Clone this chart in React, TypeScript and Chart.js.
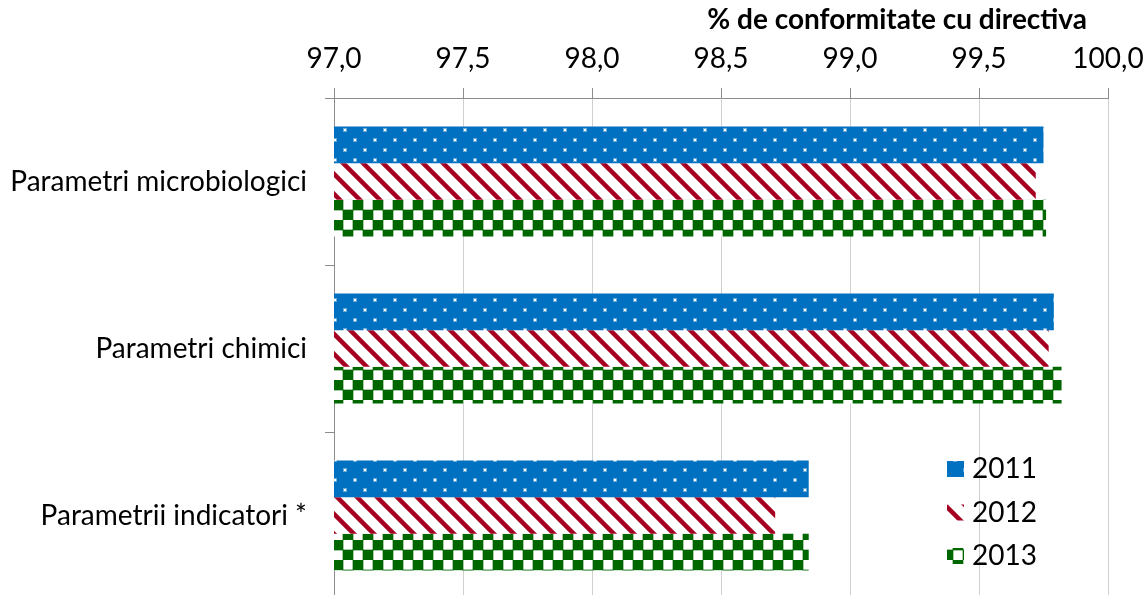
import { useEffect, useRef } from "react";
import { Chart, registerables } from "chart.js";

Chart.register(...registerables);

// Chart content
const categories = ["Parametri microbiologici", "Parametri chimici", "Parametrii indicatori *"];
const seriesLabels = ["2011", "2012", "2013"];
const values2011 = [99.75, 99.79, 98.84];
const values2012 = [99.72, 99.77, 98.71];
const values2013 = [99.76, 99.82, 98.84];
const tickValues = [97.0, 97.5, 98.0, 98.5, 99.0, 99.5, 100.0];
const axisTitle = "% de conformitate cu directiva";

const FONT = "Lato";
const FONT_SIZE = 28;
const BLUE = "#0070C0";
const RED = "#A50021";
const GREEN = "#006600";

function makeTile(draw: (c: CanvasRenderingContext2D) => void): HTMLCanvasElement {
  const cv = document.createElement("canvas");
  cv.width = 20;
  cv.height = 20;
  const c = cv.getContext("2d")!;
  draw(c);
  return cv;
}

// blue with staggered white dots
function dotTile() {
  return makeTile((c) => {
    c.fillStyle = BLUE;
    c.fillRect(0, 0, 20, 20);
    const dots = [
      [4, 9],
      [14, 19],
      [14, -1],
    ];
    for (const [x, y] of dots) {
      c.fillStyle = "rgba(255,255,255,0.4)";
      c.fillRect(x - 1, y - 1, 4, 4);
      c.fillStyle = "#ffffff";
      c.fillRect(x, y, 2, 2);
    }
  });
}

// white with dark red downward diagonals
function stripeTile() {
  return makeTile((c) => {
    c.fillStyle = "#ffffff";
    c.fillRect(0, 0, 20, 20);
    c.strokeStyle = RED;
    c.lineWidth = 4.5;
    for (const k of [-20, 0, 20]) {
      c.beginPath();
      c.moveTo(k - 6, -6);
      c.lineTo(k + 26, 26);
      c.stroke();
    }
  });
}

// green / white checkerboard
function checkerTile() {
  return makeTile((c) => {
    c.fillStyle = "#ffffff";
    c.fillRect(0, 0, 20, 20);
    const squares = [
      [13, 0],
      [-7, 0],
      [3, 10],
    ];
    for (const [x, y] of squares) {
      c.fillStyle = "rgba(0,102,0,0.35)";
      c.fillRect(x - 1, y - 1, 12, 12);
    }
    for (const [x, y] of squares) {
      c.fillStyle = GREEN;
      c.fillRect(x, y, 10, 10);
    }
  });
}

const fmt = (v: number) => v.toFixed(1).replace(".", ",");

export default function App() {
  const ref = useRef<HTMLCanvasElement | null>(null);

  useEffect(() => {
    const canvas = ref.current!;
    const ctx = canvas.getContext("2d")!;
    const fills = [dotTile(), stripeTile(), checkerTile()].map(
      (t) => ctx.createPattern(t, "repeat") as CanvasPattern
    );
    const seriesValues = [values2011, values2012, values2013];

    const overlay = {
      id: "overlay",
      afterDraw(chart: any) {
        const c = chart.ctx as CanvasRenderingContext2D;
        const area = chart.chartArea;
        const xs = chart.scales.x;
        c.save();
        c.fillStyle = "#000";
        c.textBaseline = "alphabetic";
        // axis title
        c.font = `bold ${FONT_SIZE}px ${FONT}`;
        c.textAlign = "right";
        c.fillText(axisTitle, area.right - 21, 29);
        // value axis labels above the tick marks
        c.font = `${FONT_SIZE}px ${FONT}`;
        c.textAlign = "center";
        tickValues.forEach((v) => c.fillText(fmt(v), xs.getPixelForValue(v), area.top - 30));
        // legend inside the plot
        c.textAlign = "left";
        chart.data.datasets.forEach((ds: any, i: number) => {
          const x = area.right - 161;
          const y = area.top + 363 + i * 43.5;
          c.fillStyle = ds.backgroundColor;
          c.fillRect(x, y, 17, 16);
          c.fillStyle = "#000";
          c.fillText(ds.label, x + 25, y + 17);
        });
        c.restore();
      },
    };

    const chart = new Chart(canvas, {
      type: "bar",
      data: {
        labels: categories,
        datasets: seriesLabels.map((label, i) => ({
          label,
          data: seriesValues[i],
          backgroundColor: fills[i],
          borderWidth: 0,
          categoryPercentage: 0.66,
          barPercentage: 1,
        })),
      },
      options: {
        indexAxis: "y",
        animation: false,
        responsive: false,
        devicePixelRatio: 1,
        layout: { padding: { top: 88, right: 0, bottom: 1, left: 0 } },
        plugins: {
          legend: { display: false },
          tooltip: { enabled: false },
        },
        scales: {
          x: {
            position: "top",
            min: tickValues[0],
            max: tickValues[tickValues.length - 1],
            afterBuildTicks: (s: any) => {
              s.ticks = tickValues.map((v) => ({ value: v }));
            },
            afterFit: (s: any) => {
              s.paddingLeft = 0;
              s.paddingRight = 39;
            },
            ticks: { display: false },
            grid: {
              color: "#d0d0d0",
              tickColor: "#8c8c8c",
              tickLength: 10,
              drawTicks: true,
            },
            border: { color: "#8c8c8c", width: 1 },
          },
          y: {
            afterFit: (s: any) => {
              s.width = 334;
              s.paddingTop = 0;
              s.paddingBottom = 0;
            },
            ticks: {
              font: { family: FONT, size: FONT_SIZE },
              color: "#000",
              padding: 18,
            },
            grid: {
              offset: true,
              drawOnChartArea: false,
              drawTicks: true,
              tickLength: 9,
              tickColor: "#8c8c8c",
            },
            border: { color: "#8c8c8c", width: 1 },
          },
        },
      },
      plugins: [overlay],
    } as any);

    return () => chart.destroy();
  }, []);

  return (
    <div
      style={{
        position: "fixed",
        left: 0,
        top: 0,
        width: 1147,
        height: 595,
        overflow: "hidden",
        background: "#fff",
      }}
    >
      <canvas ref={ref} width={1147} height={600} style={{ width: 1147, height: 600, display: "block" }} />
    </div>
  );
}
